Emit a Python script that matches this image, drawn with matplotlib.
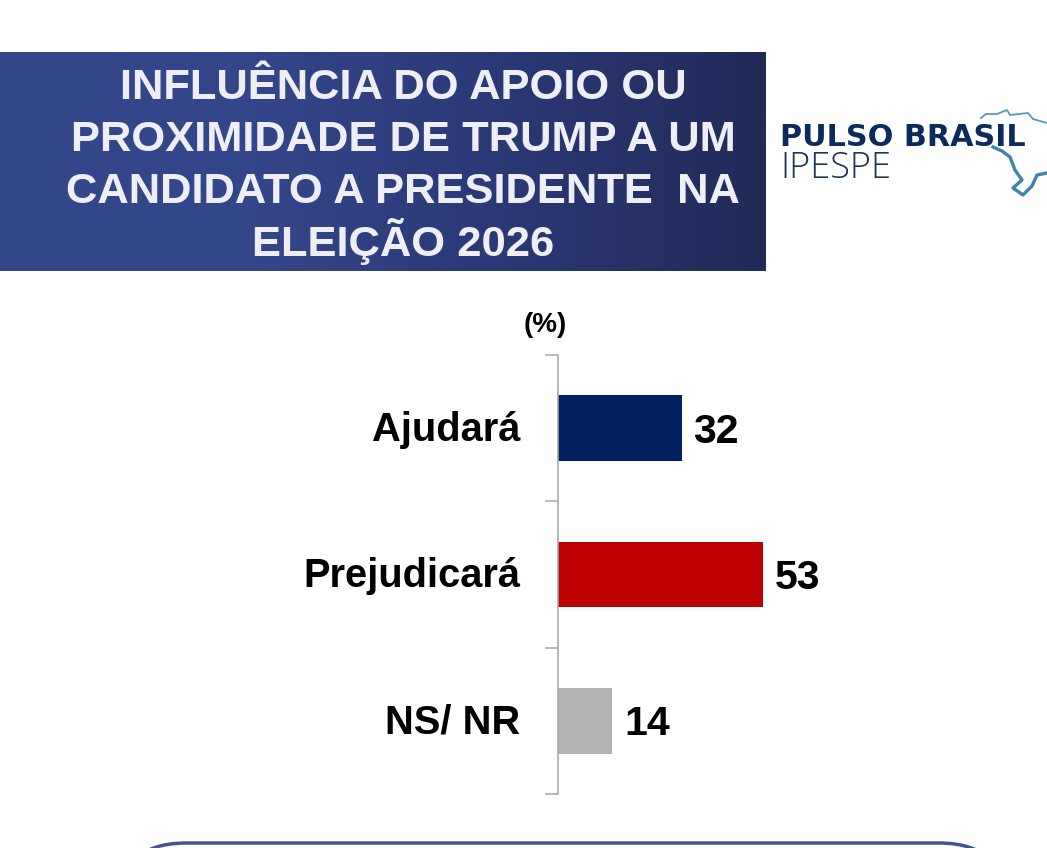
import numpy as np
import matplotlib
matplotlib.use("Agg")
import matplotlib.pyplot as plt
from matplotlib.patches import FancyBboxPatch
from matplotlib.colors import LinearSegmentedColormap

W, H = 1047, 848

categorias = ["Ajudará", "Prejudicará", "NS/ NR"]
valores = [32, 53, 14]
cores = ["#00205f", "#bd0000", "#b2b2b2"]
titulo = ["INFLUÊNCIA DO APOIO OU", "PROXIMIDADE DE TRUMP A UM",
          "CANDIDATO A PRESIDENTE  NA", "ELEIÇÃO 2026"]

plt.rcParams['font.family'] = ['Liberation Sans', 'DejaVu Sans']

fig = plt.figure(figsize=(W / 100, H / 100), dpi=100, facecolor='white')

# camada de fundo em pixels, y para baixo
bg = fig.add_axes([0, 0, 1, 1])
bg.set_xlim(0, W)
bg.set_ylim(H, 0)
bg.axis('off')

# faixa do titulo com gradiente
cmap = LinearSegmentedColormap.from_list('faixa', ['#34468a', '#34468a', '#2a3874', '#222b57'])
bg.imshow(np.linspace(0, 1, 256).reshape(1, -1), cmap=cmap, aspect='auto',
          extent=[0, 766, 271, 52], zorder=1)
bg.set_xlim(0, W)
bg.set_ylim(H, 0)

for y, linha in zip([99, 151, 203, 256], titulo):
    bg.text(403, y, linha, color='#eeeef6', fontsize=31.3, fontweight='bold',
            ha='center', va='baseline', zorder=2)

# logo
bg.plot([981, 986, 997, 1007, 1010, 1028, 1033, 1047], [118, 114, 114, 110, 115, 113, 119, 123],
        color='#5b97bd', lw=1.3, zorder=2)
bg.plot([993, 1002, 1010, 1015, 1022, 1013, 1023, 1032, 1037, 1047],
        [147, 151, 157, 170, 180, 188, 195, 186, 175, 173],
        color='#3f84b0', lw=2.4, zorder=2)
bg.text(780, 146, "PULSO BRASIL", color='#0c2a5c', fontsize=21.8, fontweight='bold',
        family=['DejaVu Sans'], ha='left', va='baseline', zorder=3)
bg.text(780, 178, "IPESPE", color='#1b3558', fontsize=26, fontweight='light',
        family=['Open Sans', 'DejaVu Sans'], ha='left', va='baseline', zorder=3)

# caixa de baixo, cortada pela borda
bg.add_patch(FancyBboxPatch((116, 843), 893, 200, boxstyle='round,pad=0,rounding_size=70',
                            mutation_aspect=1, fc='white', ec='#45548f', lw=2.5, zorder=1))

# grafico
ax = fig.add_axes([558 / W, 1 - 794 / H, 300 / W, 439 / H])
ax.patch.set_alpha(0)
pos = np.arange(len(categorias))
ax.barh(pos, valores, height=0.45, color=cores)
ax.set_xlim(0, 300 / 3.86)
ax.set_ylim(len(categorias) - 0.5, -0.5)
for i, v in zip(pos, valores):
    ax.text(v + 3.1, i + 0.025, str(v), fontsize=29.5, fontweight='bold', color='black',
            ha='left', va='center')

for s in ['top', 'right', 'bottom']:
    ax.spines[s].set_visible(False)
ax.spines['left'].set_color('#a6a6a6')
ax.spines['left'].set_linewidth(1.1)
ax.set_xticks([])
ax.set_yticks(np.arange(len(categorias) + 1) - 0.5)
ax.set_yticklabels([])
ax.tick_params(axis='y', length=9.5, width=1.1, color='#a6a6a6')
for i, c in zip(pos, categorias):
    ax.text(-9.7, i + 0.01, c, fontsize=28.7, fontweight='bold', color='black', ha='right', va='center')

bg.text(545, 325, "(%)", fontsize=20, fontweight='bold', color='black', ha='center', va='center')

fig.savefig('out.png', dpi=100)
